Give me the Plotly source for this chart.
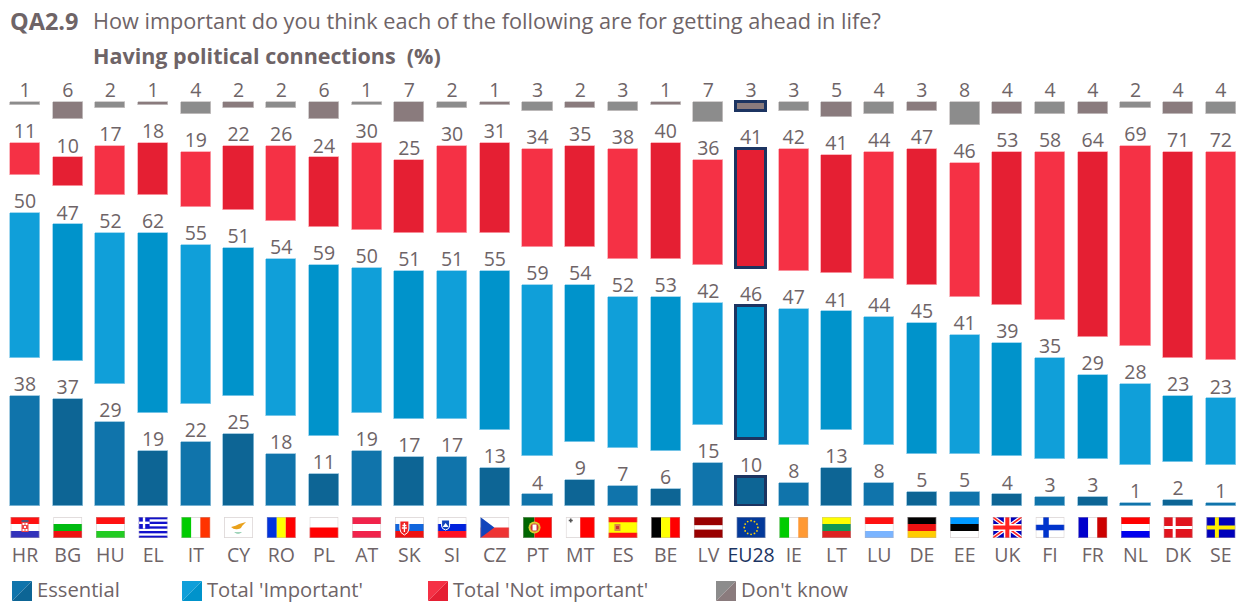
import base64
import numpy as np
import plotly.graph_objects as go

# ---------- data ----------
countries = ["HR","BG","HU","EL","IT","CY","RO","PL","AT","SK","SI","CZ","PT","MT","ES","BE","LV","EU28","IE","LT","LU","DE","EE","UK","FI","FR","NL","DK","SE"]
essential = [38,37,29,19,22,25,18,11,19,17,17,13,4,9,7,6,15,10,8,13,8,5,5,4,3,3,1,2,1]
important = [50,47,52,62,55,51,54,59,50,51,51,55,59,54,52,53,42,46,47,41,44,45,41,39,35,29,28,23,23]
not_important = [11,10,17,18,19,22,26,24,30,25,30,31,34,35,38,40,36,41,42,41,44,47,46,53,58,64,69,71,72]
dont_know = [1,6,2,1,4,2,2,6,1,7,2,1,3,2,3,1,7,3,3,5,4,3,8,4,4,4,2,4,4]

series_names = ["Essential", "Total 'Important'", "Total 'Not important'", "Don't know"]
series_values = [essential, important, not_important, dont_know]
series_colors = [("#1074AB", "#0D6595"), ("#109FD9", "#0093CB"), ("#F53145", "#E51F33"), ("#8C8C8C", "#8A7B7D")]
series_edges = ["#8FBFDA", "#8FD0EC", "#FBA6AF", "#C8C4C4"]

GAP = 13.1          # blank band between the four stacks, in chart units
W, H = 1243, 603
BOTTOM = 97
UNIT_PX = 2.9
TEXT = "#6E6467"
NAVY = "#1C3461"
FONT = "Open Sans"

FLAGS = {
 "HR": '<rect width="29" height="21" fill="#fff"/><rect width="29" height="7" fill="#f11"/><rect y="14" width="29" height="7" fill="#33b"/><rect x="11" y="4" width="7" height="11" fill="#e44"/><rect x="12" y="6" width="2" height="2" fill="#fff"/><rect x="15" y="6" width="2" height="2" fill="#fff"/><rect x="13.5" y="9" width="2" height="2" fill="#fff"/><rect x="12" y="12" width="2" height="2" fill="#fff"/><rect x="15" y="12" width="2" height="2" fill="#fff"/><rect x="11" y="3" width="7" height="2" fill="#557"/>',
 "BG": '<rect width="29" height="7" fill="#fff"/><rect y="7" width="29" height="7" fill="#0b1"/><rect y="14" width="29" height="7" fill="#e11"/>',
 "HU": '<rect width="29" height="7" fill="#f11"/><rect y="7" width="29" height="7" fill="#fff"/><rect y="14" width="29" height="7" fill="#2c2"/>',
 "EL": '<rect width="29" height="21" fill="#fff"/>' + "".join(f'<rect y="{i*4.67:.2f}" width="29" height="2.33" fill="#11c"/>' for i in range(5)) + '<rect width="11" height="11.6" fill="#11c"/><rect x="4.2" width="2.4" height="11.6" fill="#fff"/><rect y="4.6" width="11" height="2.4" fill="#fff"/>',
 "IT": '<rect width="10" height="21" fill="#0c0"/><rect x="10" width="9" height="21" fill="#fff"/><rect x="19" width="10" height="21" fill="#f30"/>',
 "CY": '<rect width="29" height="21" fill="#fff"/><path d="M7 10 Q12 9 15 7 L22 5 L18 9 Q17 12 14 12 Q10 13 7 10Z" fill="#e9a11b"/><path d="M10 15 Q14 18 18 15 Q14 16 10 15Z" fill="#4a7"/>',
 "RO": '<rect width="10" height="21" fill="#03d"/><rect x="10" width="9" height="21" fill="#ff0"/><rect x="19" width="10" height="21" fill="#f00"/>',
 "PL": '<rect width="29" height="10.5" fill="#fff"/><rect y="10.5" width="29" height="10.5" fill="#f00"/>',
 "AT": '<rect width="29" height="7" fill="#f1234b"/><rect y="7" width="29" height="7" fill="#fff"/><rect y="14" width="29" height="7" fill="#f1234b"/>',
 "SK": '<rect width="29" height="7" fill="#fff"/><rect y="7" width="29" height="7" fill="#16d"/><rect y="14" width="29" height="7" fill="#e11"/><path d="M5 4 H14 V12 Q14 16 9.5 18 Q5 16 5 12Z" fill="#e22" stroke="#fff"/><path d="M9.5 6 V15 M7.5 8.5 H11.5 M7 11 H12" stroke="#fff" stroke-width="1.3"/>',
 "SI": '<rect width="29" height="7" fill="#fff"/><rect y="7" width="29" height="7" fill="#02d"/><rect y="14" width="29" height="7" fill="#f12"/><path d="M4 3 H12 V9 Q12 12 8 13 Q4 12 4 9Z" fill="#14b" stroke="#fff"/><path d="M5 10 L8 6 L11 10Z" fill="#fff"/>',
 "CZ": '<rect width="29" height="10.5" fill="#fff"/><rect y="10.5" width="29" height="10.5" fill="#e33"/><path d="M0 0 L14 10.5 L0 21Z" fill="#14b"/>',
 "PT": '<rect width="11.5" height="21" fill="#060"/><rect x="11.5" width="17.5" height="21" fill="#f00"/><circle cx="11.5" cy="10.5" r="6" fill="#dc3"/><circle cx="11.5" cy="10.5" r="4" fill="#c33"/><rect x="9.5" y="7.5" width="4" height="6" fill="#fff"/>',
 "MT": '<rect width="14.5" height="21" fill="#fff"/><rect x="14.5" width="14.5" height="21" fill="#f00"/><path d="M3 3.5 H7 M5 1.5 V5.5" stroke="#555" stroke-width="1.6"/>',
 "ES": '<rect width="29" height="21" fill="#ff0"/><rect width="29" height="5.25" fill="#f11"/><rect y="15.75" width="29" height="5.25" fill="#f11"/><rect x="6" y="7" width="6" height="7" fill="#d84"/><rect x="7.5" y="9" width="3" height="3" fill="#c33"/>',
 "BE": '<rect width="10" height="21" fill="#000"/><rect x="10" width="9" height="21" fill="#ff0"/><rect x="19" width="10" height="21" fill="#f00"/>',
 "LV": '<rect width="29" height="8.4" fill="#900"/><rect y="8.4" width="29" height="4.2" fill="#fff"/><rect y="12.6" width="29" height="8.4" fill="#900"/>',
 "EU28": '<rect width="29" height="21" fill="#03399a"/>' + "".join(f'<circle cx="{14.5+6.8*np.cos(a):.2f}" cy="{10.5+6.8*np.sin(a):.2f}" r="0.9" fill="#ffd400"/>' for a in np.arange(12)*np.pi/6),
 "IE": '<rect width="10" height="21" fill="#0c0"/><rect x="10" width="9" height="21" fill="#fff"/><rect x="19" width="10" height="21" fill="#f93"/>',
 "LT": '<rect width="29" height="7" fill="#ff0"/><rect y="7" width="29" height="7" fill="#195"/><rect y="14" width="29" height="7" fill="#d22"/>',
 "LU": '<rect width="29" height="7" fill="#f11"/><rect y="7" width="29" height="7" fill="#fff"/><rect y="14" width="29" height="7" fill="#7ab4ff"/>',
 "DE": '<rect width="29" height="7" fill="#000"/><rect y="7" width="29" height="7" fill="#e11"/><rect y="14" width="29" height="7" fill="#fc0"/>',
 "EE": '<rect width="29" height="7" fill="#09f"/><rect y="7" width="29" height="7" fill="#000"/><rect y="14" width="29" height="7" fill="#fff"/>',
 "UK": '<rect width="29" height="21" fill="#00b"/><path d="M0 0 L29 21 M29 0 L0 21" stroke="#fff" stroke-width="4"/><path d="M0 0 L29 21 M29 0 L0 21" stroke="#f22" stroke-width="1.6"/><path d="M14.5 0 V21 M0 10.5 H29" stroke="#fff" stroke-width="7"/><path d="M14.5 0 V21 M0 10.5 H29" stroke="#f22" stroke-width="4"/>',
 "FI": '<rect width="29" height="21" fill="#fff"/><path d="M10.5 0 V21 M0 10.5 H29" stroke="#03c" stroke-width="5.5"/>',
 "FR": '<rect width="10" height="21" fill="#00c"/><rect x="10" width="9" height="21" fill="#fff"/><rect x="19" width="10" height="21" fill="#c00"/>',
 "NL": '<rect width="29" height="7" fill="#f00"/><rect y="7" width="29" height="7" fill="#fff"/><rect y="14" width="29" height="7" fill="#00e"/>',
 "DK": '<rect width="29" height="21" fill="#e1141e"/><path d="M10.5 0 V21 M0 10.5 H29" stroke="#fff" stroke-width="3"/>',
 "SE": '<rect width="29" height="21" fill="#00b"/><path d="M10.5 0 V21 M0 10.5 H29" stroke="#fe0" stroke-width="4"/>',
}


def flag_uri(code):
    svg = ('<svg xmlns="http://www.w3.org/2000/svg" width="29" height="21" viewBox="0 0 29 21">'
           + FLAGS[code]
           + '<rect x=".4" y=".4" width="28.2" height="20.2" fill="none" stroke="#bdb3b3" stroke-opacity=".55" stroke-width=".8"/></svg>')
    return "data:image/svg+xml;base64," + base64.b64encode(svg.encode()).decode()


eu = countries.index("EU28")
x = list(range(len(countries)))
fig = go.Figure()

base = np.zeros(len(countries))
for name, vals, (c1, c2), edge in zip(series_names, series_values, series_colors, series_edges):
    vals = np.array(vals, dtype=float)
    fig.add_bar(
        x=x, y=vals, name=name, width=0.705, hoverinfo="x+y+name",
        marker=dict(
            color=[c2 if (i % 2) else c1 for i in x],
            line=dict(color=[NAVY if i == eu else edge for i in x],
                      width=[2.6 if i == eu else 0.8 for i in x]),
        ),
    )
    top = base + vals
    fig.add_scatter(
        x=x, y=top, mode="text", text=[str(int(v)) for v in vals], textposition="top center",
        textfont=dict(family=FONT, size=19.5, color=TEXT), hoverinfo="skip", showlegend=False, cliponaxis=False,
    )
    fig.add_bar(x=x, y=[GAP] * len(x), width=0.705,
                marker=dict(color="rgba(0,0,0,0)", line=dict(width=0)),
                hoverinfo="skip", showlegend=False)
    base = top + GAP

ticks = [f'<span style="color:{NAVY}">{c}</span>' if c == "EU28" else c for c in countries]
plot_h = H - BOTTOM


def py(v):
    return (plot_h - v) / plot_h


images = [dict(source=flag_uri(c), xref="x", yref="paper", x=i, y=py(517), sizex=29 / 42.71, sizey=21 / plot_h,
               xanchor="center", yanchor="top", sizing="stretch", layer="above") for i, c in enumerate(countries)]

shapes, annotations = [], []
legend_x = [12, 182, 428, 716]
for lx, name, (c1, c2) in zip(legend_x, series_names, series_colors):
    x0, x1 = lx / W, (lx + 20) / W
    y0, y1 = py(601), py(581)
    shapes.append(dict(type="path", xref="paper", yref="paper", line=dict(width=0), fillcolor=c1,
                       path=f"M{x0},{y1} L{x1},{y1} L{x0},{y0} Z"))
    shapes.append(dict(type="path", xref="paper", yref="paper", line=dict(width=0), fillcolor=c2,
                       path=f"M{x1},{y1} L{x1},{y0} L{x0},{y0} Z"))
    annotations.append(dict(text=name, xref="paper", yref="paper", x=(lx + 23) / W, y=py(589), xanchor="left", yanchor="middle",
                            showarrow=False, font=dict(family=FONT, size=20.2, color=TEXT)))

for txt, px_x, px_y, size in [
    ("<b>QA2.9</b>", 8, 21, 23.5),
    ("How important do you think each of the following are for getting ahead in life?", 91, 21, 21.7),
    ("<b>Having political connections  (%)</b>", 91, 55, 21.5),
]:
    annotations.append(dict(text=txt, xref="paper", yref="paper", x=px_x / W, y=py(px_y), xanchor="left", yanchor="middle",
                            showarrow=False, font=dict(family=FONT, size=size, color=TEXT)))

fig.update_layout(
    width=W, height=H, barmode="stack", bargap=0, showlegend=False, paper_bgcolor="white", plot_bgcolor="white",
    margin=dict(l=0, r=0, t=0, b=BOTTOM), images=images, shapes=shapes, annotations=annotations,
    xaxis=dict(range=[-25 / 42.71, (W - 25) / 42.71], tickmode="array", tickvals=x, ticktext=ticks, showgrid=False, zeroline=False,
               showline=False, ticks="outside", ticklen=32, tickcolor="rgba(0,0,0,0)",
               tickfont=dict(family=FONT, size=19.5, color=TEXT)),
    yaxis=dict(range=[0, plot_h / UNIT_PX], visible=False),
)
fig.write_html("out.html", config=dict(displayModeBar=False),
               post_script="document.body.style.margin='0';document.body.style.overflow='hidden';")
